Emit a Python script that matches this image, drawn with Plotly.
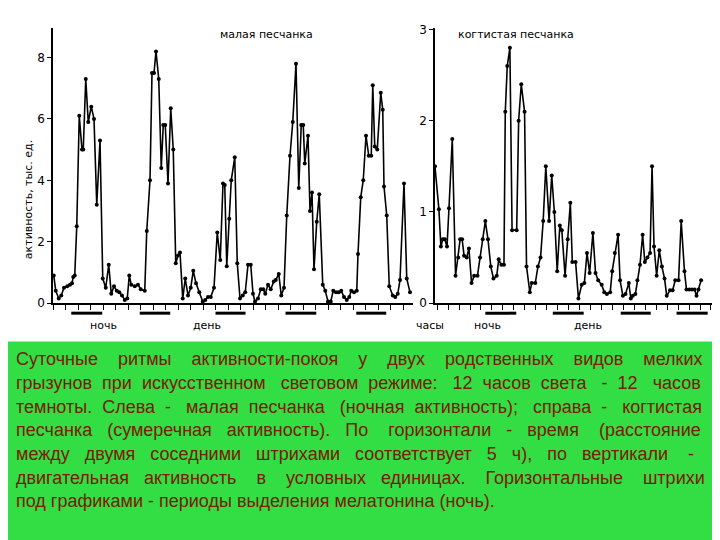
import plotly.graph_objects as go

# малая песчанка: время (ч) и активность (тыс. ед.)
left_hours = [0.3, 1.1, 2.3, 3.3, 4.4, 5.7, 6.8, 7.6, 8.1, 8.7, 9.5, 10.5, 11.6, 12.1, 13.1, 14.1, 15.3, 16.4, 17.5, 18.8,
              19.9, 21.1, 22.3, 23.3, 24.4, 25.5, 26.5, 27.6, 28.7, 29.7, 30.5, 31.3, 32.7, 34.0, 35.1, 36.7, 37.5, 38.8,
              39.6, 40.4, 41.2, 42.3, 43.3, 44.1, 44.9, 46.0, 47.1, 48.1, 49.1, 50.0, 50.8, 51.9, 52.9, 54.0, 55.1, 56.1,
              57.2, 58.5, 59.9, 60.9, 62.0, 63.1, 64.4, 65.7, 66.9, 68.0, 68.7, 69.5, 70.5, 71.3, 72.7, 73.7, 74.8, 75.9,
              76.9, 78.0, 79.1, 80.0, 80.8, 82.0, 83.1, 84.1, 84.9, 86.0, 87.1, 88.3, 89.1, 90.3, 91.3, 92.4, 93.5, 94.8,
              95.9, 97.2, 98.3, 99.3, 100.1, 100.7, 102.0, 102.8, 103.6, 104.4, 105.5, 106.5, 107.9, 108.9, 110.0, 111.1,
              112.1, 113.2, 114.3, 115.3, 116.4, 117.5, 118.5, 119.3, 120.4, 121.5, 122.0, 123.1, 124.1, 125.2, 126.3,
              127.3, 127.9, 128.7, 129.7, 131.1, 131.9, 132.4, 133.5, 134.5, 135.9, 136.9, 137.9, 138.8, 140.4, 141.5, 142.8]
left_activity = [0.9, 0.4, 0.15, 0.25, 0.5, 0.55, 0.6, 0.65, 0.85, 0.9, 2.5, 6.1, 5.0, 5.0, 7.3, 5.9, 6.4, 6.0, 3.2, 5.3,
                 0.8, 0.5, 1.25, 0.3, 0.55, 0.4, 0.35, 0.25, 0.1, 0.15, 0.9, 0.6, 0.55, 0.6, 0.45, 0.4, 2.35, 4.0,
                 7.5, 7.5, 8.2, 7.3, 4.4, 5.8, 5.8, 3.9, 6.35, 5.0, 1.3, 1.55, 1.65, 0.15, 0.8, 0.25, 0.5, 1.05,
                 0.65, 0.35, 0.05, 0.1, 0.2, 0.2, 0.5, 2.3, 1.4, 3.9, 3.85, 1.2, 2.75, 4.0, 4.75, 1.3, 0.15, 0.25,
                 0.35, 1.25, 1.25, 0.3, 0.05, 0.15, 0.45, 0.45, 0.3, 0.6, 0.45, 0.7, 0.75, 0.95, 0.25, 0.5, 2.85, 4.8,
                 5.9, 7.8, 3.75, 5.8, 5.8, 4.55, 5.45, 3.0, 3.6, 1.1, 2.65, 3.55, 0.6, 0.4, 0.05, 0.05,
                 0.4, 0.35, 0.35, 0.4, 0.2, 0.1, 0.2, 0.4, 0.35, 0.4, 1.6, 3.45, 4.0, 5.45, 4.8,
                 4.8, 7.1, 5.1, 5.0, 6.85, 6.3, 3.8, 2.85, 0.55, 0.25, 0.2, 0.3, 0.75, 3.9, 0.8, 0.35]

# когтистая песчанка
right_hours = [0, 1.8, 2.7, 3.6, 4.5, 5.5, 6.4, 7.9, 9.4, 10.6, 11.5, 12.4, 13.3, 14.5, 15.5, 16.7, 17.9, 19.4, 20.6,
               21.8, 23.0, 24.2, 25.5, 26.7, 28.2, 29.1, 30.3, 31.5, 32.1, 33.0, 34.2, 35.2, 37.3, 38.2, 39.4, 40.9,
               41.8, 43.3, 44.2, 45.8, 47.0, 48.2, 49.4, 50.6, 52.1, 53.3, 54.5, 55.8, 57.0, 57.9, 59.4, 60.6, 61.8,
               62.7, 64.2, 65.5, 67.0, 68.2, 69.4, 70.6, 72.1, 73.3, 74.5, 76.1, 77.3, 78.5, 80.0, 80.9, 82.1, 83.6,
               84.5, 85.8, 87.0, 88.5, 89.4, 90.3, 91.5, 92.4, 93.6, 94.8, 95.8, 97.0, 98.2, 99.1, 100.0, 101.2,
               102.4, 103.6, 104.8, 105.8, 107.3, 108.5, 109.7, 111.2, 112.4, 113.9, 114.8, 116.1, 117.3, 118.5,
               119.4, 120.3, 121.5]
right_activity = [1.5, 1.03, 0.62, 0.7, 0.7, 0.62, 1.04, 1.8, 0.3, 0.5, 0.7, 0.7, 0.52, 0.5, 0.6, 0.22, 0.3, 0.3, 0.5,
                  0.7, 0.9, 0.7, 0.4, 0.27, 0.3, 0.48, 0.42, 0.42, 2.1, 2.6, 2.8, 0.8, 0.8, 2.0, 2.4, 2.1,
                  0.4, 0.12, 0.22, 0.22, 0.4, 0.5, 0.9, 1.5, 0.9, 1.4, 1.0, 0.35, 0.85, 0.8, 0.3, 0.7, 1.1,
                  0.45, 0.45, 0.05, 0.2, 0.22, 0.55, 0.33, 0.77, 0.33, 0.25, 0.2, 0.12, 0.1, 0.12, 0.35, 0.55, 0.75,
                  0.25, 0.08, 0.1, 0.22, 0.05, 0.08, 0.1, 0.25, 0.42, 0.75, 0.45, 0.5, 0.55, 1.5, 0.62, 0.3,
                  0.58, 0.4, 0.27, 0.08, 0.14, 0.14, 0.25, 0.25, 0.9, 0.35, 0.15, 0.15, 0.15, 0.15,
                  0.08, 0.15, 0.25]

# периоды ночи (начало, конец), ч
left_nights = [(7.3, 19.7), (34.7, 46.9), (65.0, 77.0), (93.0, 105.3), (121.3, 133.3)]
right_nights = [(23.0, 37.1), (53.8, 67.9), (84.8, 98.5), (110.3, 124.5)]

caption_lines = [
    "Суточные ритмы активности-покоя у двух родственных видов мелких",
    "грызунов при искусственном световом режиме: 12 часов света - 12 часов",
    "темноты. Слева - малая песчанка (ночная активность); справа - когтистая",
    "песчанка (сумеречная активность). По горизонтали - время (расстояние",
    "между двумя соседними штрихами соответствует 5 ч), по вертикали -",
    "двигательная активность в условных единицах. Горизонтальные штрихи",
    "под графиками - периоды выделения мелатонина (ночь).",
]
# extra spaces to fake justified text, per line
pad_spaces = [21, 14, 13, 16, 19, 16, 0]


def justify(line, extra):
    words = line.split(" ")
    gaps = len(words) - 1
    out = words[0]
    for i, w in enumerate(words[1:]):
        n = extra * (i + 1) // gaps - extra * i // gaps
        out += " " + "\u00a0" * n + w
    return out


fig = go.Figure()
line_style = dict(color="black", width=1.6)
marker_style = dict(color="black", size=4)
fig.add_trace(go.Scatter(x=left_hours, y=left_activity, mode="lines+markers",
                         line=line_style, marker=marker_style, xaxis="x", yaxis="y"))
fig.add_trace(go.Scatter(x=right_hours, y=right_activity, mode="lines+markers",
                         line=line_style, marker=marker_style, xaxis="x2", yaxis="y2"))

# night bars below axes
bar_y = 1 - 307 / 540
for xr, nights in (("x", left_nights), ("x2", right_nights)):
    for a, b in nights:
        fig.add_shape(type="line", xref=xr, yref="paper", x0=a, x1=b, y0=bar_y, y1=bar_y,
                      line=dict(color="black", width=3))

axis_common = dict(showgrid=False, zeroline=False, showline=True, linecolor="black", linewidth=1.5,
                   ticks="outside", tickcolor="black", ticklen=5, tickwidth=1)
fig.update_layout(
    width=720, height=540, margin=dict(l=0, r=0, t=0, b=0),
    paper_bgcolor="white", plot_bgcolor="white", showlegend=False,
    font=dict(family="DejaVu Sans", color="black", size=12),
    xaxis=dict(domain=[0.0625, 0.5625], range=[0, 144], dtick=5, tick0=0, showticklabels=False, anchor="y", **axis_common),
    yaxis=dict(domain=[0.4506, 0.972], range=[0, 8.97], dtick=2, anchor="x", **axis_common),
    xaxis2=dict(domain=[0.593, 0.994], range=[0, 131.8], dtick=5, tick0=1, showticklabels=False, anchor="y2", **axis_common),
    yaxis2=dict(domain=[0.4506, 0.972], range=[0, 3.02], dtick=1, anchor="x2", **axis_common),
)
fig.update_yaxes(ticklen=4)

ann = [
    dict(text="малая песчанка", x=210, y=13),
    dict(text="когтистая песчанка", x=568, y=13),
    dict(text="ночь", x=80, y=320),
    dict(text="день", x=183, y=320),
    dict(text="часы", x=422, y=320),
    dict(text="ночь", x=495, y=320),
    dict(text="день", x=596, y=320),
]
for a in ann:
    fig.add_annotation(text=a["text"], x=a["x"] / 720, y=1 - a["y"] / 540, xref="paper", yref="paper",
                       showarrow=False, font=dict(size=11, family="DejaVu Sans"))
fig.add_annotation(text="активность, тыс. ед.", x=12 / 720, y=1 - 128 / 540, xref="paper", yref="paper",
                   showarrow=False, textangle=-90, font=dict(size=11, family="DejaVu Sans"))

# green caption box
fig.add_shape(type="rect", xref="paper", yref="paper", x0=0, x1=1, y0=0, y1=1 - 336 / 540,
              fillcolor="#33dd44", line=dict(width=0), layer="below")
for i, t in enumerate(caption_lines):
    fig.add_annotation(text=justify(t, pad_spaces[i]), x=6 / 720, y=1 - (342 + i * 24.2) / 540,
                       xref="paper", yref="paper", xanchor="left", yanchor="top", showarrow=False,
                       font=dict(size=18, family="Liberation Sans", color="#7a1a00"))

fig.write_html("out.html")
